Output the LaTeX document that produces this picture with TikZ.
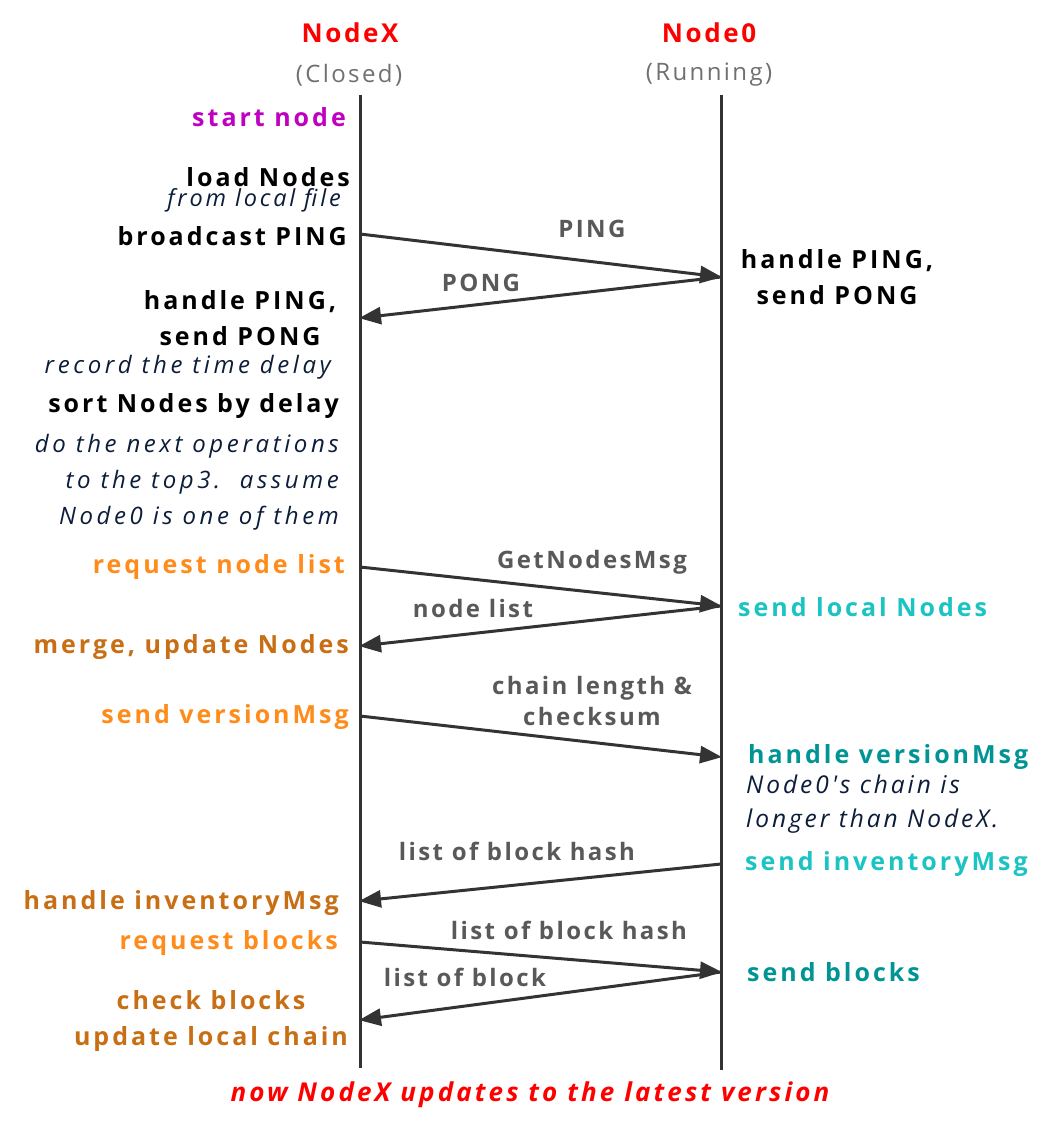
\documentclass[tikz,border=0pt]{standalone}
\usepackage{fontspec}
\setmainfont{Open Sans}
\newfontfamily\spacedA[LetterSpace=12]{Open Sans}
\newfontfamily\spacedB[LetterSpace=10]{Open Sans}
\newfontfamily\spacedC[LetterSpace=15]{Open Sans}
\usetikzlibrary{arrows.meta}
\definecolor{lifegray}{HTML}{333333}
\definecolor{lblgray}{HTML}{595959}
\definecolor{hdrred}{HTML}{FF0000}
\definecolor{subgray}{HTML}{707070}
\definecolor{magent}{HTML}{C000C0}
\definecolor{navy}{HTML}{0B1D3A}
\definecolor{orangeA}{HTML}{FF8C1A}
\definecolor{orangeB}{HTML}{C86E14}
\definecolor{cyanA}{HTML}{1CC3C3}
\definecolor{tealA}{HTML}{009494}
\tikzset{
  lifeline/.style={draw=lifegray, line width=3pt},
  msg/.style={draw=lifegray, line width=3pt, -{Triangle[length=22pt,width=17pt]}, shorten >=-1pt},
  txt/.style={inner sep=0pt, font=\spacedA\fontsize{25}{36}\selectfont\bfseries},
  ctxt/.style={inner sep=0pt, font=\spacedA\fontsize{25}{36}\selectfont\bfseries},
  itxt/.style={inner sep=0pt, text=navy, font=\spacedC\fontsize{24}{36}\selectfont\itshape},
  citxt/.style={inner sep=0pt, text=navy, font=\spacedA\fontsize{24.5}{34}\selectfont\itshape},
  lbl/.style={inner sep=0pt, text=lblgray, font=\spacedB\fontsize{24}{31}\selectfont\bfseries},
  hdr/.style={inner sep=0pt, text=hdrred, font=\spacedB\fontsize{26}{30}\selectfont\bfseries},
  sub/.style={inner sep=0pt, text=subgray, font=\spacedB\fontsize{24}{30}\selectfont},
}
\begin{document}
\begin{tikzpicture}[x=1pt,y=-1pt]
\useasboundingbox (0,0) rectangle (1042,1124);
% headers
\node[hdr] (hx) at (350,33) {NodeX};
\node[sub] (sx) at (349,75) {(Closed)};
\node[hdr] (h0) at (709,33) {Node0};
\node[sub] (s0) at (709,75) {(Running)};
% lifelines
\coordinate (xtop) at (360,95);
\coordinate (xbot) at (360,1068);
\coordinate (otop) at (721,95);
\coordinate (obot) at (721,1070);
\draw[lifeline] (xtop) -- (xbot);
\draw[lifeline] (otop) -- (obot);
% left labels
\node[txt, text=magent, anchor=east] (l1) at (346,117) {start node};
\node[txt, anchor=base east] (l2) at (350,186) {load Nodes};
\node[inner sep=0pt, text=navy, font=\spacedA\fontsize{23.5}{30}\selectfont\itshape, anchor=base east] (l3) at (341,206) {from local file};
\node[txt, anchor=east] (l4) at (347,236) {broadcast PING};
\node[txt, align=center] (l5) at (240,318) {handle PING,\\send PONG};
\node[itxt, anchor=east] (l6) at (331,367) {record the time delay};
\node[txt, anchor=east] (l7) at (339,406) {sort Nodes by delay};
\node[itxt, align=right, anchor=east] (l8) at (339,482) {do the next operations\\to the top3.\ \ assume\\Node0 is one of them};
\node[ctxt, text=orangeA, anchor=east] (l9) at (345,567) {request node list};
\node[ctxt, text=orangeB, anchor=east] (l10) at (349,647) {merge, update Nodes};
\node[ctxt, text=orangeA, anchor=east] (l11) at (349,717) {send versionMsg};
\node[ctxt, text=orangeB, anchor=east] (l12) at (339,903) {handle inventoryMsg};
\node[ctxt, text=orangeA, anchor=east] (l13) at (338,943) {request blocks};
\node[ctxt, text=orangeB, align=center] (l14) at (211,1021) {check blocks\\update local chain};
% right labels
\node[txt, align=center] (r1) at (837,277) {handle PING,\\send PONG};
\node[ctxt, text=cyanA, anchor=west] (r2) at (738,607) {send local Nodes};
\node[ctxt, text=tealA, anchor=west] (r3) at (748,757) {handle versionMsg};
\node[citxt, align=left, anchor=west] (r4) at (746,804) {Node0's chain is\\longer than NodeX.};
\node[ctxt, text=cyanA, anchor=west] (r5) at (745,864) {send inventoryMsg};
\node[ctxt, text=tealA, anchor=west] (r6) at (747,972) {send blocks};
% message coordinates
\coordinate (x1) at (360,234);
\coordinate (o1) at (721,277);
\coordinate (x2) at (360,318);
\coordinate (x3) at (360,567);
\coordinate (o3) at (721,606);
\coordinate (x4) at (360,646);
\coordinate (x5) at (360,716);
\coordinate (o5) at (721,757);
\coordinate (o6) at (721,864);
\coordinate (x6) at (360,901);
\coordinate (x7) at (360,942);
\coordinate (o7) at (721,972);
\coordinate (x8) at (360,1020);
\draw[msg] (x1) -- (o1);
\draw[msg] (o1) -- (x2);
\draw[msg] (x3) -- (o3);
\draw[msg] (o3) -- (x4);
\draw[msg] (x5) -- (o5);
\draw[msg] (o6) -- (x6);
\draw[msg] (x7) -- (o7);
\draw[msg] (o7) -- (x8);
% message labels
\node[lbl] (m1) at (592,229) {PING};
\node[lbl] (m2) at (481,283) {PONG};
\node[lbl] (m3) at (592,562) {GetNodesMsg};
\node[lbl] (m4) at (473,608) {node list};
\node[lbl, align=center] (m5) at (592,701) {chain length \&\\checksum};
\node[lbl] (m6) at (517,851) {list of block hash};
\node[lbl] (m7) at (569,930) {list of block hash};
\node[lbl] (m8) at (465,977) {list of block};
% footer
\node[inner sep=0pt, text=hdrred, font=\spacedA\fontsize{26}{30}\selectfont\bfseries\itshape] (ft) at (530,1095) {now NodeX updates to the latest version};
\end{tikzpicture}
\end{document}
